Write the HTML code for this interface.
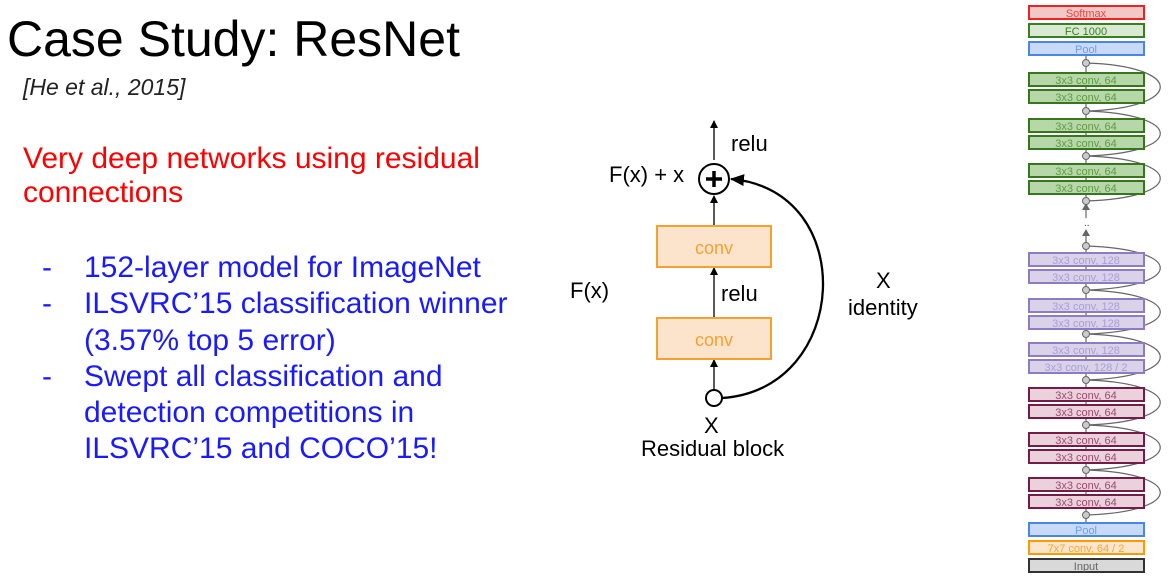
<!DOCTYPE html>
<html><head><style>
body{margin:0;width:1175px;height:583px;background:#fff;overflow:hidden;position:relative;font-family:"Liberation Sans",sans-serif}
.t{position:absolute;white-space:nowrap}
</style></head><body>
<div class="t" style="left:7px;top:10px;font-size:50px;color:#000">Case Study: ResNet</div>
<div class="t" style="left:23px;top:74px;font-size:23px;font-style:italic;color:#222">[He et al., 2015]</div>
<div class="t" style="left:23px;top:142px;font-size:30px;color:#f00;line-height:34px">Very deep networks using residual<br>connections</div>
<div class="t" style="left:42px;top:250px;font-size:30px;color:#1a1aff;line-height:36.3px">-<br>-<br><br>-</div>
<div class="t" style="left:84px;top:250px;font-size:30px;color:#1a1aff;line-height:36.3px">152-layer model for ImageNet<br>ILSVRC’15 classification winner<br>(3.57% top 5 error)<br>Swept all classification and<br>detection competitions in<br>ILSVRC’15 and COCO’15!</div>
<svg width="1175" height="583" style="position:absolute;left:0;top:0" font-family="Liberation Sans, sans-serif">
<defs><marker id="a" markerWidth="8" markerHeight="8" refX="7" refY="4" orient="auto" markerUnits="userSpaceOnUse"><path d="M0,0L8,4L0,8z" fill="#000"/></marker>
<marker id="b" markerWidth="14" markerHeight="12" refX="13" refY="6" orient="auto" markerUnits="userSpaceOnUse"><path d="M0,0L14,6L0,12z" fill="#000"/></marker>
<marker id="g" markerWidth="7" markerHeight="8" refX="6" refY="4" orient="auto" markerUnits="userSpaceOnUse"><path d="M0,0L7,4L0,8z" fill="#666"/></marker></defs>
<g stroke="#000" stroke-width="1.3">
<line x1="714" y1="160" x2="714" y2="121" marker-end="url(#a)"/>
<line x1="714" y1="226" x2="714" y2="196" marker-end="url(#a)"/>
<line x1="714" y1="318" x2="714" y2="268" marker-end="url(#a)"/>
<line x1="714" y1="390" x2="714" y2="360" marker-end="url(#a)"/>
</g>
<rect x="657" y="226" width="114" height="41" fill="#fce4cc" stroke="#f7a030" stroke-width="2"/>
<rect x="657" y="318" width="114" height="41" fill="#fce4cc" stroke="#f7a030" stroke-width="2"/>
<text x="714" y="254" font-size="18" fill="#f7a030" text-anchor="middle">conv</text>
<text x="714" y="346" font-size="18" fill="#f7a030" text-anchor="middle">conv</text>
<path d="M722,398 C850,390 860,190 731,179" fill="none" stroke="#000" stroke-width="2.3" marker-end="url(#b)"/>
<circle cx="714" cy="179" r="15" fill="#fff" stroke="#000" stroke-width="2"/>
<path d="M714,171V187M706,179H722" stroke="#000" stroke-width="3.5"/>
<circle cx="714" cy="398" r="8" fill="#fff" stroke="#000" stroke-width="2"/>
<g font-size="22" fill="#000">
<text x="731" y="151">relu</text>
<text x="609" y="182">F(x) + x</text>
<text x="721" y="301">relu</text>
<text x="570" y="298">F(x)</text>
<text x="876" y="288">X</text>
<text x="848" y="315">identity</text>
<text x="704" y="433">X</text>
<text x="641" y="456">Residual block</text>
</g>
<g stroke="#666" stroke-width="1.2" fill="none">
<line x1="1086" y1="55" x2="1086" y2="208"/>
<line x1="1086" y1="240" x2="1086" y2="522"/>
<line x1="1086" y1="218" x2="1086" y2="204" marker-end="url(#g)"/>
<line x1="1086" y1="244" x2="1086" y2="230" marker-end="url(#g)"/>
<path d="M1086,63 C1185,66 1185,108 1086,111"/>
<path d="M1086,111 C1185,114 1185,153 1086,156"/>
<path d="M1086,156 C1185,159 1185,198 1086,201"/>
<path d="M1086,246 C1185,249 1185,287 1086,290"/>
<path d="M1086,290 C1185,293 1185,331 1086,334"/>
<path d="M1086,334 C1185,337 1185,377 1086,380"/>
<path d="M1086,380 C1185,383 1185,422 1086,425"/>
<path d="M1086,425 C1185,428 1185,467 1086,470"/>
<path d="M1086,470 C1185,473 1185,512 1086,515"/>
</g>
<g fill="#ccc" stroke="#666" stroke-width="1">
<circle cx="1086" cy="63" r="3.5"/><circle cx="1086" cy="111" r="3.5"/><circle cx="1086" cy="156" r="3.5"/><circle cx="1086" cy="201" r="3.5"/>
<circle cx="1086" cy="246" r="3.5"/><circle cx="1086" cy="290" r="3.5"/><circle cx="1086" cy="334" r="3.5"/><circle cx="1086" cy="380" r="3.5"/>
<circle cx="1086" cy="425" r="3.5"/><circle cx="1086" cy="470" r="3.5"/><circle cx="1086" cy="515" r="3.5"/>
</g>
<text x="1084" y="226" font-size="10" fill="#333">..</text>
<g stroke-width="2" font-size="11" text-anchor="middle">
<rect x="1029" y="6" width="115" height="13" fill="#f4c7c7" stroke="#e22"/><text x="1086" y="17" fill="#e44" stroke="none">Softmax</text>
<rect x="1029" y="24" width="115" height="13" fill="#d9ead3" stroke="#3a7d22"/><text x="1086" y="35" fill="#3a7d22" stroke="none">FC 1000</text>
<rect x="1029" y="42" width="115" height="13" fill="#c9daf8" stroke="#4a86e8"/><text x="1086" y="53" fill="#6a9ef0" stroke="none">Pool</text>
<g fill="#b6d7a8" stroke="#38761d">
<rect x="1029" y="73" width="115" height="13"/><rect x="1029" y="90" width="115" height="13"/>
<rect x="1029" y="119" width="115" height="13"/><rect x="1029" y="136" width="115" height="13"/>
<rect x="1029" y="164" width="115" height="13"/><rect x="1029" y="181" width="115" height="13"/>
</g>
<g fill="#5f9a45" stroke="none">
<text x="1086" y="84">3x3 conv, 64</text><text x="1086" y="101">3x3 conv, 64</text>
<text x="1086" y="130">3x3 conv, 64</text><text x="1086" y="147">3x3 conv, 64</text>
<text x="1086" y="175">3x3 conv, 64</text><text x="1086" y="192">3x3 conv, 64</text>
</g>
<g fill="#d9d2e9" stroke="#8e7cc3">
<rect x="1029" y="253" width="115" height="13"/><rect x="1029" y="270" width="115" height="13"/>
<rect x="1029" y="299" width="115" height="13"/><rect x="1029" y="316" width="115" height="13"/>
<rect x="1029" y="343" width="115" height="13"/><rect x="1029" y="360" width="115" height="13"/>
</g>
<g fill="#a89ed8" stroke="none">
<text x="1086" y="264">3x3 conv, 128</text><text x="1086" y="281">3x3 conv, 128</text>
<text x="1086" y="310">3x3 conv, 128</text><text x="1086" y="327">3x3 conv, 128</text>
<text x="1086" y="354">3x3 conv, 128</text><text x="1086" y="371">3x3 conv, 128 / 2</text>
</g>
<g fill="#ead1dc" stroke="#741b47">
<rect x="1029" y="388" width="115" height="13"/><rect x="1029" y="405" width="115" height="13"/>
<rect x="1029" y="433" width="115" height="13"/><rect x="1029" y="450" width="115" height="13"/>
<rect x="1029" y="478" width="115" height="13"/><rect x="1029" y="495" width="115" height="13"/>
</g>
<g fill="#9a4a6e" stroke="none">
<text x="1086" y="399">3x3 conv, 64</text><text x="1086" y="416">3x3 conv, 64</text>
<text x="1086" y="444">3x3 conv, 64</text><text x="1086" y="461">3x3 conv, 64</text>
<text x="1086" y="489">3x3 conv, 64</text><text x="1086" y="506">3x3 conv, 64</text>
</g>
<rect x="1029" y="523" width="115" height="13" fill="#c9daf8" stroke="#4a86e8"/><text x="1086" y="534" fill="#6a9ef0" stroke="none">Pool</text>
<rect x="1029" y="541" width="115" height="13" fill="#fce5cd" stroke="#f90"/><text x="1086" y="552" fill="#f9a830" stroke="none">7x7 conv, 64 / 2</text>
<rect x="1029" y="559" width="115" height="13" fill="#d9d9d9" stroke="#333"/><text x="1086" y="570" fill="#666" stroke="none">Input</text>
</g>
</svg>
</body></html>
